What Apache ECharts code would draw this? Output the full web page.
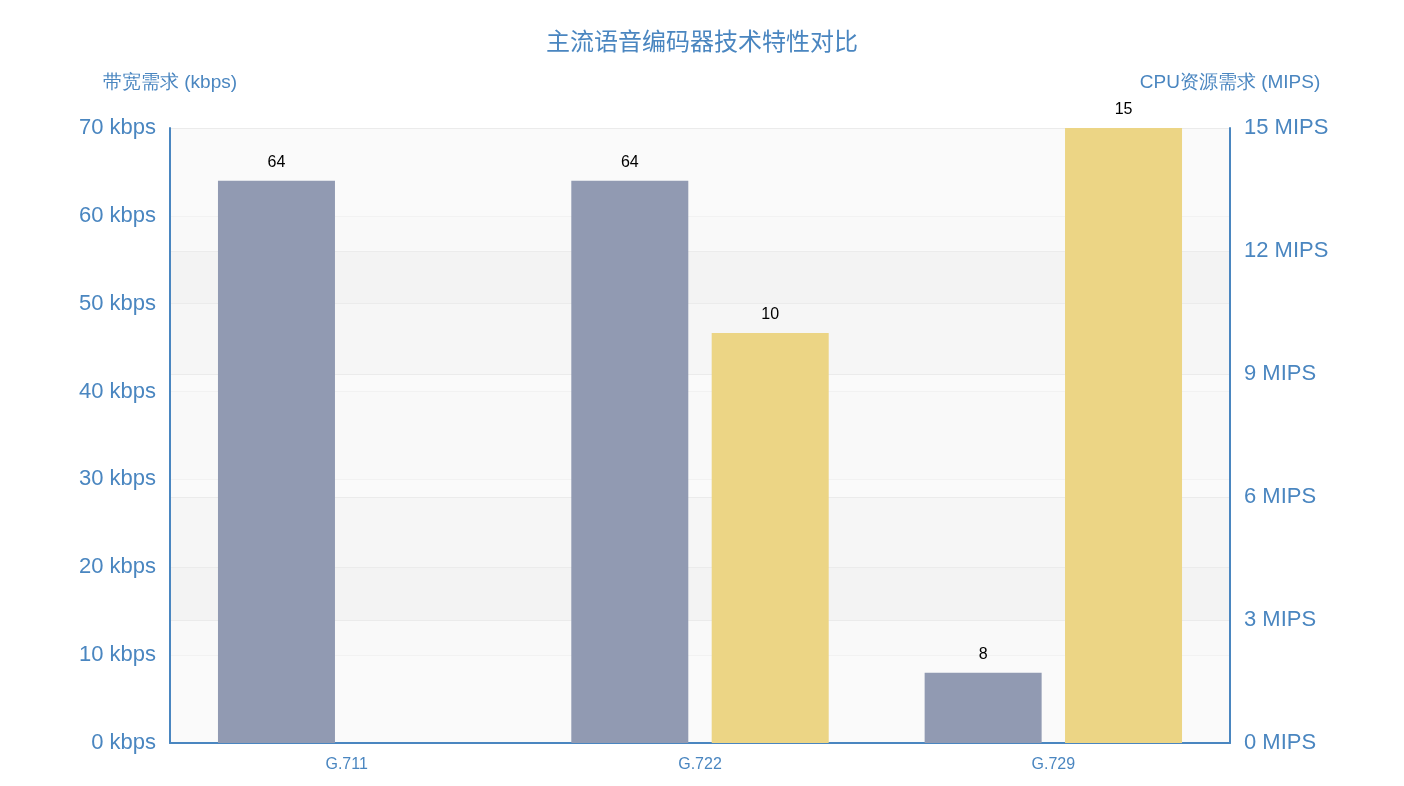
<!DOCTYPE html><html><head><meta charset="utf-8"><script src="https://cdn.jsdelivr.net/npm/echarts@6/dist/echarts.min.js"></script></head><body style="margin:0"><div id="c" style="width:1404px;height:786px"></div><script>
const categories=['G.711','G.722','G.729'];
const bandwidth=[64,64,8];
const cpu=['-',10,15];
const blue='#4a86c0';
const ch=echarts.init(document.getElementById('c'));
ch.setOption({
title:{text:'主流语音编码器技术特性对比',left:'center',top:24,textStyle:{color:blue,fontSize:24,fontWeight:'normal',fontFamily:'Noto Sans CJK SC'}},
grid:{left:170,right:174,top:128,bottom:43},
xAxis:{type:'category',data:categories,axisLine:{lineStyle:{color:blue,width:2}},axisTick:{lineStyle:{color:blue}},axisLabel:{color:blue,fontSize:16,margin:14}},
yAxis:[
{type:'value',min:0,max:70,interval:10,name:'带宽需求 (kbps)',nameTextStyle:{color:blue,fontSize:19,align:'center',padding:[0,0,10,0]},nameGap:26,
axisLine:{show:true,lineStyle:{color:blue,width:2}},axisLabel:{color:blue,fontSize:22,formatter:'{value} kbps',margin:14},
splitLine:{lineStyle:{color:'#ebebeb'}},splitArea:{show:true,areaStyle:{color:['rgba(250,250,250,0.5)','rgba(235,235,235,0.35)']}}},
{type:'value',min:0,max:15,interval:3,name:'CPU资源需求 (MIPS)',nameTextStyle:{color:blue,fontSize:19,align:'center',padding:[0,0,10,0]},nameGap:26,
axisLine:{show:true,lineStyle:{color:blue,width:2}},axisLabel:{color:blue,fontSize:22,formatter:'{value} MIPS',margin:14},
splitLine:{lineStyle:{color:'#ebebeb'}},splitArea:{show:true,areaStyle:{color:['rgba(250,250,250,0.5)','rgba(235,235,235,0.35)']}}}
],
series:[
{type:'bar',data:bandwidth,barWidth:117,barGap:'20%',itemStyle:{color:'#919ab2'},label:{show:true,position:'top',color:'#000',fontSize:16,distance:10}},
{type:'bar',yAxisIndex:1,data:cpu,barWidth:117,itemStyle:{color:'#ecd585'},label:{show:true,position:'top',color:'#000',fontSize:16,distance:10}}
]});
</script></body></html>
